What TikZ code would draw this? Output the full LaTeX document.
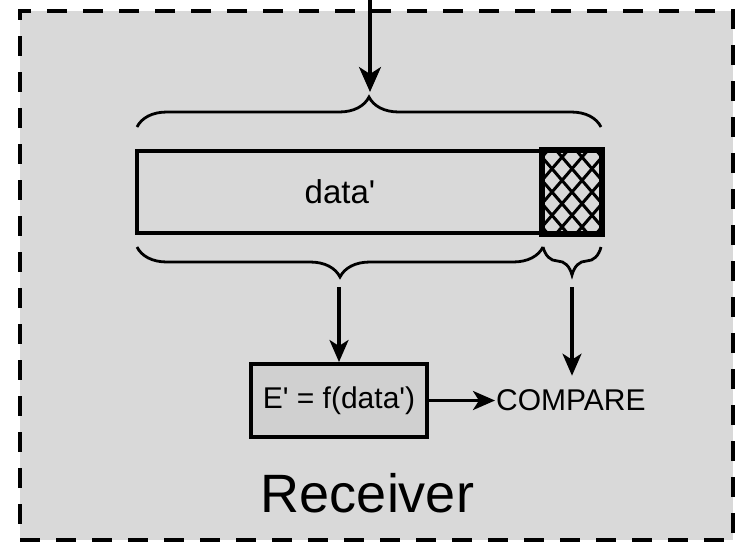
\documentclass[tikz,border=0pt]{standalone}
\usepackage{fontspec}
\setmainfont{Liberation Sans}
\usetikzlibrary{arrows.meta,decorations.pathreplacing,calc}
\definecolor{panel}{HTML}{D9D9D9}
\definecolor{boxfill}{HTML}{D0D0D0}
\newcommand{\pr}{\textquotesingle}
\begin{document}
\begin{tikzpicture}[x=1pt,y=-1pt,
  conn/.style={line width=3.2pt,-{Stealth[length=22pt,width=19pt,inset=6pt]}},
  bigconn/.style={line width=3.2pt,-{Stealth[length=25pt,width=22pt,inset=7pt]}},
  bracepath/.style={decorate,decoration={brace,amplitude=#1},line width=2.8pt},
  field/.style={draw,line width=4pt,inner sep=0pt,minimum height=82pt},
  lbl/.style={font=\fontsize{30}{36}\selectfont},
  hatch/.style={line width=3pt},
]
\useasboundingbox (0,0) rectangle (742,542);

% receiver frame
\node (frame) [draw,dash pattern=on 20pt off 16pt,line width=4pt,fill=panel,
  inner sep=0pt,minimum width=713pt,minimum height=529pt] at (376.5,275.5) {};

% received message: payload and check field
\node (msg) [field,minimum width=406pt,font=\fontsize{33}{40}\selectfont] at (340,192) {data\pr};
\node (chk) [field,minimum width=58pt] at (572,192) {};
\begin{scope}
  \clip (chk.north west) rectangle (chk.south east);
  \foreach \c in {-160,-140,...,160}{
    \draw[hatch] ($(chk.center)+(\c-55,-64)$) -- ($(chk.center)+(\c+55,64)$);
    \draw[hatch] ($(chk.center)+(\c-55,64)$) -- ($(chk.center)+(\c+55,-64)$);
  }
\end{scope}
\draw[line width=4pt] (chk.north west) rectangle (chk.south east);

% braces
\coordinate (src) at (370,0);
\coordinate (toptip) at (370,92);
\draw[bracepath=30pt] (137,127) -- (601,127);
\draw[bracepath=30pt] (543,247) -- (137,247);
\draw[bracepath=28pt] (601,247) -- (543,247);
\coordinate (dtip) at (339,287);
\coordinate (ctip) at (572,287);

% computation and comparison
\node (fbox) [draw,line width=4pt,fill=boxfill,inner sep=0pt,
  minimum width=176pt,minimum height=73pt,lbl] at (339,400.5) {E\pr{} = f(data\pr)};
\node (cmp) [lbl,inner xsep=1pt,inner ysep=14pt,anchor=west] at (495,400.5) {COMPARE};

\node (recv) [font=\fontsize{54}{64}\selectfont,anchor=base] at (367.5,512) {Receiver};

% connectors
\draw[bigconn] (src) -- (toptip);
\draw[conn] (dtip) -- (fbox.north);
\draw[conn] (ctip) -- (cmp.north -| ctip);
\draw[conn] (fbox.east) -- (cmp.west);
\end{tikzpicture}
\end{document}
